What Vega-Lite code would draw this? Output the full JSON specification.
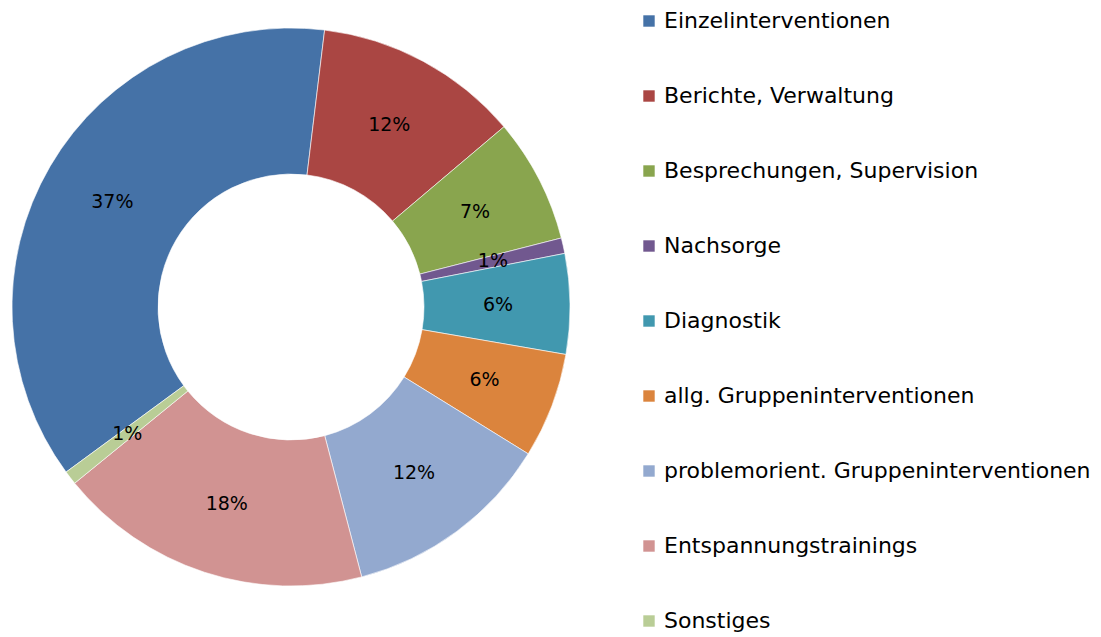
{
  "$schema": "https://vega.github.io/schema/vega-lite/v6.json",
  "width": 582,
  "height": 614,
  "padding": 0,
  "autosize": "pad",
  "background": "white",
  "data": {
    "values": [
      {"Kategorie": "Einzelinterventionen", "Anteil": 0.370, "Reihenfolge": 1},
      {"Kategorie": "Berichte, Verwaltung", "Anteil": 0.119, "Reihenfolge": 2},
      {"Kategorie": "Besprechungen, Supervision", "Anteil": 0.072, "Reihenfolge": 3},
      {"Kategorie": "Nachsorge", "Anteil": 0.009, "Reihenfolge": 4},
      {"Kategorie": "Diagnostik", "Anteil": 0.058, "Reihenfolge": 5},
      {"Kategorie": "allg. Gruppeninterventionen", "Anteil": 0.061, "Reihenfolge": 6},
      {"Kategorie": "problemorient. Gruppeninterventionen", "Anteil": 0.121, "Reihenfolge": 7},
      {"Kategorie": "Entspannungstrainings", "Anteil": 0.182, "Reihenfolge": 8},
      {"Kategorie": "Sonstiges", "Anteil": 0.008, "Reihenfolge": 9}
    ]
  },
  "encoding": {
    "theta": {"field": "Anteil", "type": "quantitative", "stack": true, "scale": {"range": [-2.204, 4.0792]}},
    "order": {"field": "Reihenfolge", "type": "quantitative"},
    "color": {
      "field": "Kategorie",
      "type": "nominal",
      "sort": null,
      "scale": {
        "domain": ["Einzelinterventionen", "Berichte, Verwaltung", "Besprechungen, Supervision", "Nachsorge", "Diagnostik", "allg. Gruppeninterventionen", "problemorient. Gruppeninterventionen", "Entspannungstrainings", "Sonstiges"],
        "range": ["#4572A7", "#AA4643", "#89A54E", "#71588F", "#4198AF", "#DB843D", "#93A9CF", "#D19392", "#B9CD96"]
      },
      "legend": {
        "orient": "none",
        "legendX": 638,
        "legendY": 10,
        "title": null,
        "padding": 0,
        "symbolType": "square",
        "symbolSize": 130,
        "symbolStrokeWidth": 0,
        "labelFont": "DejaVu Sans",
        "labelFontSize": 22,
        "labelColor": "#000000",
        "labelOffset": 4,
        "labelLimit": 600,
        "rowPadding": 53
      }
    }
  },
  "layer": [
    {
      "mark": {"type": "arc", "outerRadius": 279, "innerRadius": 133, "stroke": "#ffffff", "strokeWidth": 0.6}
    },
    {
      "mark": {"type": "text", "radius": 207, "font": "DejaVu Sans", "fontSize": 19, "color": "#000000"},
      "encoding": {
        "text": {"field": "Anteil", "type": "quantitative", "format": ".0%"},
        "color": {"value": "#000000"}
      }
    }
  ],
  "config": {"view": {"stroke": null}}
}
